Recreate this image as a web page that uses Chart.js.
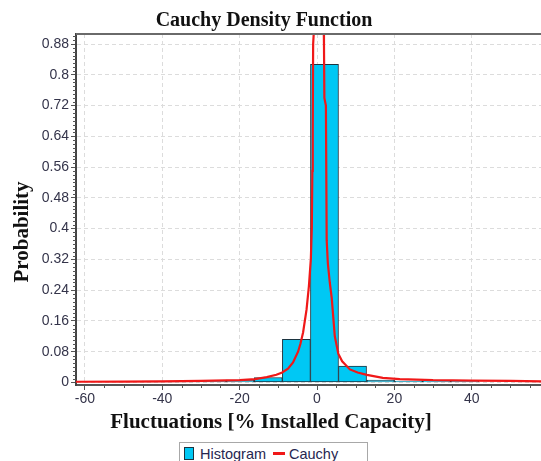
<!DOCTYPE html>
<html>
<head>
<meta charset="utf-8">
<script src="https://cdn.jsdelivr.net/npm/chart.js@4.4.1/dist/chart.umd.min.js"></script>
<style>
  html, body { margin: 0; padding: 0; background: #fff; overflow: hidden; }
  #wrap { position: relative; width: 541px; height: 461px; }
  #chartBox { position: absolute; left: 0; top: 0; width: 541px; height: 461px; }
  .ttl { position: absolute; font-family: "Liberation Serif", "Times New Roman", serif; font-weight: bold; color: #111; white-space: nowrap; }
  #title { left: 0; top: 8px; width: 528px; text-align: center; line-height: 22px; font-size: 20px; }
  #xTitle { left: 0; top: 409px; width: 542px; text-align: center; line-height: 24px; font-size: 21px; }
  #yTitle { left: -79px; top: 220px; width: 200px; height: 24px; line-height: 24px; font-size: 21px; text-align: center; transform: rotate(-90deg); }
  #legend { position: absolute; left: 179px; top: 442px; width: 187px; height: 26px; border: 1px solid #a8a8a8; background: #fff;
            font-family: "Liberation Sans", Arial, sans-serif; font-size: 14.5px; color: #262650; }
  #legend span { position: absolute; top: 2px; line-height: 18px; }
  .sw { position: absolute; left: 4px; top: 4px; width: 8px; height: 11px; background: #00c8f4; border: 1px solid #1c3440; }
  .ln { position: absolute; left: 93px; top: 9px; width: 12px; height: 3px; background: #f01818; }
</style>
</head>
<body>
<div id="wrap">
  <div id="chartBox"><canvas id="cauchyChart"></canvas></div>
  <div id="title" class="ttl">Cauchy Density Function</div>
  <div id="yTitle" class="ttl">Probability</div>
  <div id="xTitle" class="ttl">Fluctuations [% Installed Capacity]</div>
  <div id="legend">
    <div class="sw"></div><span style="left:20px">Histogram</span>
    <div class="ln"></div><span style="left:109px">Cauchy</span>
  </div>
</div>
<script>
// ── histogram bins (centre of each bin, % installed capacity) ──
const binCenters = [-41.58, -34.33, -27.08, -19.83, -12.58, -5.33, 1.93, 9.18, 16.43, 23.68, 30.93, 38.18];
const binHeights = [0.004, 0.004, 0.004, 0.006, 0.013, 0.112, 0.827, 0.043, 0.006, 0.004, 0.003, 0.003];

// ── fitted Cauchy curve ──
const cauchyX = [-62.3, -50, -40, -30, -20, -16, -13, -10.5, -9, -7.5, -6.2, -4.9, -4.3, -3.6, -2.7, -2.1, -1.6, -1.35,
                 -1.2, -1.1, -1.0, -0.6, 0.5, 1.7, 1.8, 1.9, 2.3, 2.5, 2.8, 3.3, 3.8, 4.6, 5.5, 6.5, 8.5, 10.5, 12.9,
                 17, 21.4, 30, 40, 50, 57.9];
const cauchyY = [0.002, 0.0025, 0.003, 0.004, 0.006, 0.009, 0.014, 0.02, 0.026, 0.036, 0.052, 0.08, 0.1, 0.13, 0.19, 0.25, 0.32, 0.40,
                 0.55, 0.66, 0.88, 0.95, 1.2, 0.95, 0.88, 0.74, 0.72, 0.37, 0.31, 0.26, 0.22, 0.12, 0.075, 0.055, 0.034, 0.026, 0.02,
                 0.012, 0.009, 0.006, 0.005, 0.004, 0.003];

// ── axis ticks ──
const xTicks = [-60, -40, -20, 0, 20, 40];
const yTicks = [0, 0.08, 0.16, 0.24, 0.32, 0.4, 0.48, 0.56, 0.64, 0.72, 0.8, 0.88];

const tickFont = { family: '"Liberation Sans", Arial, sans-serif', size: 14 };
const tickColor = '#34344a';

// minor tick marks + top frame line
const frame = {
  id: 'frame',
  afterDraw(chart) {
    const { ctx, chartArea: a, scales: { x, y } } = chart;
    ctx.save();
    ctx.strokeStyle = '#555';
    ctx.lineWidth = 1;
    ctx.beginPath();
    for (let v = -60; v <= 55; v += 5) {
      if (v % 20 === 0) continue;
      const px = Math.round(x.getPixelForValue(v)) + 0.5;
      ctx.moveTo(px, a.bottom); ctx.lineTo(px, a.bottom + 3);
    }
    for (let i = 0; i <= 90; i++) {
      if (i % 8 === 0) continue;
      const py = Math.round(y.getPixelForValue(i / 100)) + 0.5;
      ctx.moveTo(a.left - 3, py); ctx.lineTo(a.left, py);
    }
    ctx.stroke();
    ctx.strokeStyle = '#6a6a6a';
    ctx.lineWidth = 2;
    ctx.beginPath();
    ctx.moveTo(a.left, a.top); ctx.lineTo(a.right, a.top);
    ctx.stroke();
    ctx.restore();
  }
};

new Chart(document.getElementById('cauchyChart').getContext('2d'), {
  type: 'bar',
  data: {
    datasets: [
      {
        type: 'line',
        label: 'Cauchy',
        data: cauchyX.map((v, i) => ({ x: v, y: cauchyY[i] })),
        borderColor: '#f01818',
        borderWidth: 2.2,
        pointRadius: 0,
        tension: 0,
        fill: false,
        clip: 0,
        order: 0
      },
      {
        type: 'bar',
        label: 'Histogram',
        data: binCenters.map((v, i) => ({ x: v, y: binHeights[i] })),
        backgroundColor: '#00c8f4',
        borderColor: '#1c3440',
        borderWidth: 1,
        borderSkipped: false,
        barPercentage: 1,
        categoryPercentage: 1,
        order: 1
      }
    ]
  },
  plugins: [frame],
  options: {
    responsive: true,
    maintainAspectRatio: false,
    animation: false,
    layout: { padding: { top: 34, left: 0, right: 0, bottom: 0 } },
    plugins: { legend: { display: false }, title: { display: false }, tooltip: { enabled: false } },
    scales: {
      x: {
        type: 'linear',
        min: -62.3,
        max: 57.9,
        offset: false,
        afterBuildTicks: s => { s.ticks = xTicks.map(v => ({ value: v })); },
        afterFit: s => { s.height = 76; },
        ticks: { font: tickFont, color: tickColor, padding: 1, maxRotation: 0 },
        grid: { offset: false, color: '#dcdcdc', lineWidth: 1, tickLength: 5, tickColor: '#555', tickBorderDash: [] },
        border: { color: '#555', width: 2, dash: [4, 3] }
      },
      y: {
        type: 'linear',
        min: -0.0065,
        max: 0.906,
        afterBuildTicks: s => { s.ticks = yTicks.map(v => ({ value: v })); },
        afterFit: s => { s.width = 76; },
        ticks: { font: tickFont, color: tickColor, padding: 2, callback: v => String(+v.toFixed(2)) },
        grid: { color: '#dcdcdc', lineWidth: 1, tickLength: 5, tickColor: '#555', tickBorderDash: [] },
        border: { color: '#444', width: 2, dash: [4, 3] }
      }
    }
  }
});
</script>
</body>
</html>
